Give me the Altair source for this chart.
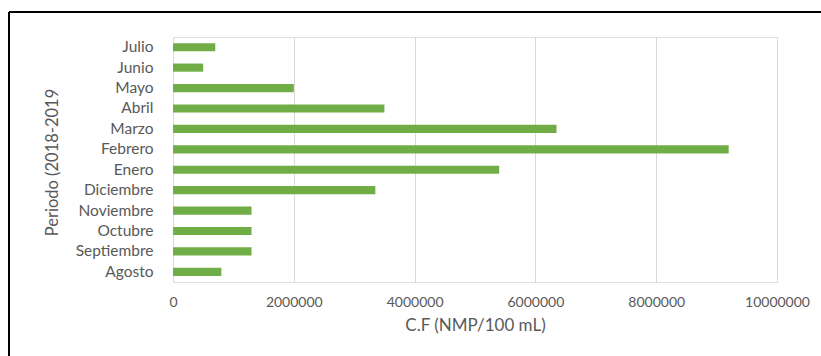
import altair as alt
import pandas as pd

# Monthly fecal coliform counts, August 2018 to July 2019
meses = ["Agosto", "Septiembre", "Octubre", "Noviembre", "Diciembre", "Enero",
         "Febrero", "Marzo", "Abril", "Mayo", "Junio", "Julio"]
cf = [800000, 1300000, 1300000, 1300000, 3350000, 5400000,
      9200000, 6350000, 3500000, 2000000, 500000, 700000]
ticks_x = [0, 2000000, 4000000, 6000000, 8000000, 10000000]

df = pd.DataFrame({"mes": meses, "cf": cf})
orden = list(reversed(meses))  # Julio on top, Agosto at the bottom

FONT = "Lato"
GRAY = "#595959"

bars = alt.Chart(df).mark_bar(color="#70AD47").encode(
    x=alt.X("cf:Q",
            scale=alt.Scale(domain=[0, 10000000], nice=False),
            axis=alt.Axis(values=ticks_x, format="d", title="C.F (NMP/100 mL)",
                          grid=True, gridColor="#d9d9d9", gridWidth=1,
                          domain=False, ticks=False, labelFlush=False,
                          labelPadding=13, labelFontSize=14, labelColor=GRAY,
                          titleFontSize=17, titleColor=GRAY, titleFontWeight="normal",
                          titlePadding=8)),
    y=alt.Y("mes:N", sort=orden,
            scale=alt.Scale(paddingInner=0.6, paddingOuter=0.3),
            axis=alt.Axis(title="Periodo (2018-2019",
                          domain=False, ticks=False, grid=False,
                          labelPadding=20, labelFontSize=15.5, labelColor=GRAY,
                          titleFontSize=16.5, titleColor=GRAY, titleFontWeight="normal",
                          titleX=-121, titleY=125, titleAlign="center",
                          titleBaseline="middle", titleAngle=-90)),
)

# Figure frame along the top and left edges
frame_df = pd.DataFrame({"k": [0]})
top_edge = alt.Chart(frame_df).mark_rule(color="black", strokeWidth=2, clip=False).encode(
    x=alt.value(-164), x2=alt.value(648), y=alt.value(-25)
)
left_edge = alt.Chart(frame_df).mark_rule(color="black", strokeWidth=2, clip=False).encode(
    x=alt.value(-164), y=alt.value(-25), y2=alt.value(319)
)

chart = alt.layer(bars, top_edge, left_edge).properties(
    width=604, height=245,
    autosize=alt.AutoSizeParams(type="none"),
    padding={"left": 173, "top": 37, "right": 44, "bottom": 74},
    background="white",
).configure_view(stroke=None).configure(font=FONT)

chart.save("out.html", embed_options={"renderer": "svg", "actions": False})
